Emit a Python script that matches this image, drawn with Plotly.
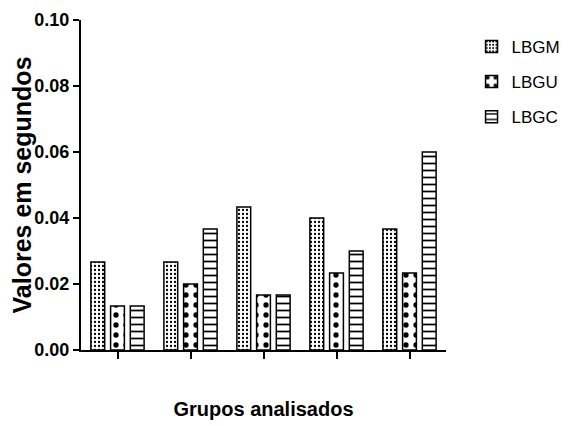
import plotly.graph_objects as go

groups = ["G1", "G2", "G3", "G4", "G5"]
lbgm = [0.0267, 0.0267, 0.0433, 0.0400, 0.0367]
lbgu = [0.0133, 0.0200, 0.0167, 0.0233, 0.0233]
lbgc = [0.0133, 0.0367, 0.0167, 0.0300, 0.0600]
y_ticks = [0.00, 0.02, 0.04, 0.06, 0.08, 0.10]
y_tick_labels = ["0.00", "0.02", "0.04", "0.06", "0.08", "0.10"]

FONT = "Liberation Sans, Arial"

fig = go.Figure()
series = [
    ("LBGM", lbgm, dict(shape=".", size=4, solidity=0.25)),
    ("LBGU", lbgu, dict(shape=".", size=10, solidity=0.22)),
    ("LBGC", lbgc, dict(shape="-", size=7, solidity=0.25)),
]
for i, (name, vals, pat) in enumerate(series):
    fig.add_trace(go.Bar(
        x=groups, y=vals, name=name, legendgroup="g%d" % i,
        marker=dict(color="white", line=dict(color="black", width=1.5),
                    pattern=dict(fgcolor="black", bgcolor="white", fgopacity=1,
                                 fillmode="replace", **pat)),
    ))

# page body adds an 8px offset, so the figure is sized to fill the rest
fig.update_layout(
    width=570, height=418,
    margin=dict(l=73, r=126, t=12, b=76),
    paper_bgcolor="white", plot_bgcolor="white",
    barmode="group", bargap=0.19, bargroupgap=0.3,
    font=dict(family=FONT, color="black"),
    legend=dict(x=1.07, y=0.973, xanchor="left", yanchor="top",
                font=dict(size=17, family=FONT),
                tracegroupgap=10),
    showlegend=True,
)
fig.update_xaxes(
    automargin=False,
    showline=True, linecolor="black", linewidth=2,
    ticks="outside", ticklen=7, tickwidth=2, tickcolor="black",
    showticklabels=False, showgrid=False, zeroline=False,
    range=[-0.5, 4.5],
    title=dict(text="<b>Grupos analisados</b>", standoff=44,
               font=dict(size=20, family=FONT)),
)
fig.update_yaxes(
    automargin=False,
    showline=True, linecolor="black", linewidth=2,
    ticks="outside", ticklen=6, tickwidth=2, tickcolor="black",
    tickvals=y_ticks, ticktext=["<b>%s</b>" % t for t in y_tick_labels],
    tickfont=dict(size=18, family=FONT),
    showgrid=False, zeroline=False, range=[0, 0.1],
    title=dict(text="<b>Valores em segundos</b>", standoff=2,
               font=dict(size=25, family=FONT)),
)
fig.write_html("out.html")
